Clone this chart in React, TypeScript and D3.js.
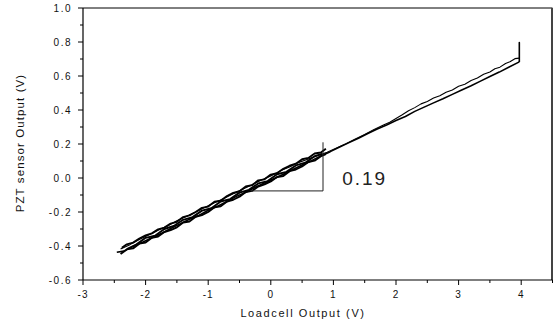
import React from "react";
import * as d3 from "d3";

// Tick values
const xTicksMajor = [-3, -2, -1, 0, 1, 2, 3, 4];
const xTicksMinor = [-2.5, -1.5, -0.5, 0.5, 1.5, 2.5, 3.5, 4.5];
const yTicksMajor = [-0.6, -0.4, -0.2, 0.0, 0.2, 0.4, 0.6, 0.8, 1.0];
const yTicksMinor = [-0.5, -0.3, -0.1, 0.1, 0.3, 0.5, 0.7, 0.9];

// Large cycle: forward (lower branch) to 4 V
const bigForward: [number, number][] = [
  [-2.46, -0.437], [-2.35, -0.43], [-2.2, -0.402], [-2.05, -0.378], [-1.9, -0.352],
  [-1.75, -0.326], [-1.6, -0.297], [-1.45, -0.27], [-1.3, -0.243], [-1.15, -0.221],
  [-1.0, -0.19], [-0.85, -0.166], [-0.7, -0.138], [-0.55, -0.108], [-0.4, -0.084],
  [-0.25, -0.055], [-0.1, -0.03], [0.05, -0.004], [0.2, 0.022], [0.35, 0.05],
  [0.5, 0.076], [0.65, 0.102], [0.8, 0.13], [0.95, 0.155], [1.1, 0.182],
  [1.25, 0.208], [1.4, 0.234], [1.55, 0.262], [1.7, 0.288], [1.85, 0.312],
  [2.0, 0.338], [2.15, 0.362], [2.3, 0.392], [2.45, 0.417], [2.6, 0.442],
  [2.75, 0.466], [2.9, 0.492], [3.05, 0.518], [3.2, 0.543], [3.35, 0.57],
  [3.5, 0.597], [3.65, 0.623], [3.8, 0.651], [3.97, 0.683],
];

// Spike at the turning point
const spike: [number, number][] = [[3.97, 0.683], [3.97, 0.797], [3.97, 0.705]];

// Large cycle: return (upper branch)
const bigReturn: [number, number][] = [
  [3.97, 0.705], [3.9, 0.702], [3.82, 0.684], [3.75, 0.674], [3.66, 0.652], [3.58, 0.643],
  [3.5, 0.624], [3.4, 0.61], [3.3, 0.588], [3.2, 0.574], [3.1, 0.552], [3.0, 0.54],
  [2.9, 0.518], [2.8, 0.505], [2.7, 0.484], [2.6, 0.47], [2.5, 0.45], [2.4, 0.436],
  [2.3, 0.414], [2.2, 0.396], [2.1, 0.372], [2.0, 0.35], [1.9, 0.328], [1.8, 0.312],
  [1.65, 0.286], [1.5, 0.256], [1.35, 0.23], [1.2, 0.201], [1.05, 0.176], [0.9, 0.152],
  [0.75, 0.132], [0.6, 0.112], [0.45, 0.092], [0.3, 0.065], [0.15, 0.042], [0.0, 0.012],
  [-0.15, -0.012], [-0.3, -0.04], [-0.45, -0.066], [-0.6, -0.092], [-0.75, -0.12],
  [-0.9, -0.146], [-1.05, -0.172], [-1.2, -0.2], [-1.35, -0.226], [-1.5, -0.252],
  [-1.65, -0.282], [-1.8, -0.308], [-1.95, -0.336], [-2.1, -0.362], [-2.25, -0.392],
  [-2.4, -0.418],
];

// Small cycle: forward
const smallForward: [number, number][] = [
  [-2.4, -0.447], [-2.3, -0.42], [-2.2, -0.414], [-2.1, -0.386], [-2.0, -0.38],
  [-1.9, -0.352], [-1.8, -0.344], [-1.7, -0.318], [-1.6, -0.306], [-1.5, -0.29],
  [-1.4, -0.262], [-1.3, -0.256], [-1.2, -0.228], [-1.1, -0.218], [-1.0, -0.2],
  [-0.9, -0.172], [-0.8, -0.166], [-0.7, -0.138], [-0.6, -0.128], [-0.5, -0.11],
  [-0.4, -0.082], [-0.3, -0.076], [-0.2, -0.05], [-0.1, -0.038], [0.0, -0.02],
  [0.1, 0.006], [0.2, 0.012], [0.3, 0.04], [0.4, 0.05], [0.5, 0.068],
  [0.6, 0.094], [0.7, 0.102], [0.8, 0.128], [0.88, 0.14],
];

// Small cycle: return
const smallReturn: [number, number][] = [
  [0.88, 0.172], [0.8, 0.15], [0.7, 0.144], [0.6, 0.118], [0.5, 0.11], [0.4, 0.084],
  [0.3, 0.072], [0.2, 0.054], [0.1, 0.028], [0.0, 0.02], [-0.1, -0.008], [-0.2, -0.014],
  [-0.3, -0.042], [-0.4, -0.05], [-0.5, -0.078], [-0.6, -0.088], [-0.7, -0.106],
  [-0.8, -0.134], [-0.9, -0.14], [-1.0, -0.168], [-1.1, -0.176], [-1.2, -0.2],
  [-1.3, -0.22], [-1.4, -0.23], [-1.5, -0.258], [-1.6, -0.268], [-1.7, -0.292],
  [-1.8, -0.302], [-1.9, -0.326], [-2.0, -0.338], [-2.1, -0.356], [-2.2, -0.38],
  [-2.3, -0.39], [-2.38, -0.41],
];

// Third pass
const thirdForward: [number, number][] = [
  [-2.3, -0.418], [-2.15, -0.392], [-2.0, -0.352], [-1.85, -0.34], [-1.7, -0.3],
  [-1.55, -0.282], [-1.4, -0.246], [-1.25, -0.23], [-1.1, -0.192], [-0.95, -0.178],
  [-0.8, -0.138], [-0.65, -0.124], [-0.5, -0.086], [-0.35, -0.07], [-0.2, -0.032],
  [-0.05, -0.018], [0.1, 0.022], [0.25, 0.036], [0.4, 0.074], [0.55, 0.09],
  [0.7, 0.128], [0.82, 0.142],
];

// Slope triangle annotation
const slopeTriangle: [number, number][] = [[-0.3, -0.076], [0.834, -0.076], [0.834, 0.21]];
const slopeLabel = "0.19";
const slopeLabelPos: [number, number] = [1.14, -0.043];

const W = 555;
const H = 326;
const font = "'Liberation Sans', Arial, sans-serif";

export default function App() {
  const x = d3.scaleLinear().domain([-3, 4.5]).range([83, 552.5]);
  const y = d3.scaleLinear().domain([-0.6, 1.0]).range([280, 8]);
  const line = d3
    .line<[number, number]>()
    .x((d) => x(d[0]))
    .y((d) => y(d[1]));

  const strands = [bigForward, spike, bigReturn, smallForward, smallReturn, thirdForward];

  return (
    <div style={{ position: "fixed", left: 0, top: 0, width: W, height: H, background: "#fff" }}>
      <svg width={W} height={H} style={{ display: "block" }}>
        <rect x={0} y={0} width={W} height={H} fill="#fff" />
        {/* frame */}
        <line x1={x(-3)} x2={x(4.5)} y1={y(1.0)} y2={y(1.0)} stroke="#000" strokeWidth={1} />
        <line x1={x(4.5) - 0.5} x2={x(4.5) - 0.5} y1={y(1.0)} y2={y(-0.6)} stroke="#444" strokeWidth={2} />
        <line x1={x(-3)} x2={x(-3)} y1={y(1.0)} y2={y(-0.6)} stroke="#000" strokeWidth={1.2} />
        <line x1={x(-3)} x2={x(4.5)} y1={y(-0.6)} y2={y(-0.6)} stroke="#000" strokeWidth={1.2} />

        {/* x ticks */}
        {xTicksMajor.map((t) => (
          <g key={"xM" + t}>
            <line x1={x(t)} x2={x(t)} y1={y(-0.6)} y2={y(-0.6) + 5} stroke="#000" strokeWidth={1} />
            <text
              x={x(t)}
              y={y(-0.6) + 18}
              textAnchor="middle"
              fontFamily={font}
              fontSize={10}
              letterSpacing={1}
              fill="#111"
            >
              {t}
            </text>
          </g>
        ))}
        {xTicksMinor.map((t) => (
          <line key={"xm" + t} x1={x(t)} x2={x(t)} y1={y(-0.6)} y2={y(-0.6) + 3} stroke="#000" strokeWidth={1} />
        ))}

        {/* y ticks */}
        {yTicksMajor.map((t) => (
          <g key={"yM" + t}>
            <line x1={x(-3) - 5} x2={x(-3)} y1={y(t)} y2={y(t)} stroke="#000" strokeWidth={1} />
            <text
              x={x(-3) - 11}
              y={y(t) + 3.5}
              textAnchor="end"
              fontFamily={font}
              fontSize={10}
              letterSpacing={1.5}
              fill="#111"
            >
              {t.toFixed(1)}
            </text>
          </g>
        ))}
        {yTicksMinor.map((t) => (
          <line key={"ym" + t} x1={x(-3) - 3} x2={x(-3)} y1={y(t)} y2={y(t)} stroke="#000" strokeWidth={1} />
        ))}

        {/* axis titles */}
        <text
          x={303}
          y={317}
          textAnchor="middle"
          fontFamily={font}
          fontSize={11}
          letterSpacing={1.6}
          fill="#111"
        >
          Loadcell  Output (V)
        </text>
        <text
          transform={`translate(24,143) rotate(-90)`}
          textAnchor="middle"
          fontFamily={font}
          fontSize={11.5}
          letterSpacing={1.1}
          fill="#111"
        >
          PZT sensor Output (V)
        </text>

        {/* data */}
        {strands.map((s, i) => (
          <path
            key={i}
            d={line(s) || ""}
            fill="none"
            stroke="#000"
            strokeWidth={i === 2 ? 1.1 : i >= 3 ? 1.9 : 1.6}
            strokeLinejoin="round"
          />
        ))}

        {/* slope annotation */}
        <path d={line(slopeTriangle) || ""} fill="none" stroke="#222" strokeWidth={1} />
        <text
          x={x(slopeLabelPos[0])}
          y={y(slopeLabelPos[1])}
          fontFamily={font}
          fontSize={19}
          letterSpacing={2}
          fill="#222"
        >
          {slopeLabel}
        </text>
      </svg>
    </div>
  );
}
